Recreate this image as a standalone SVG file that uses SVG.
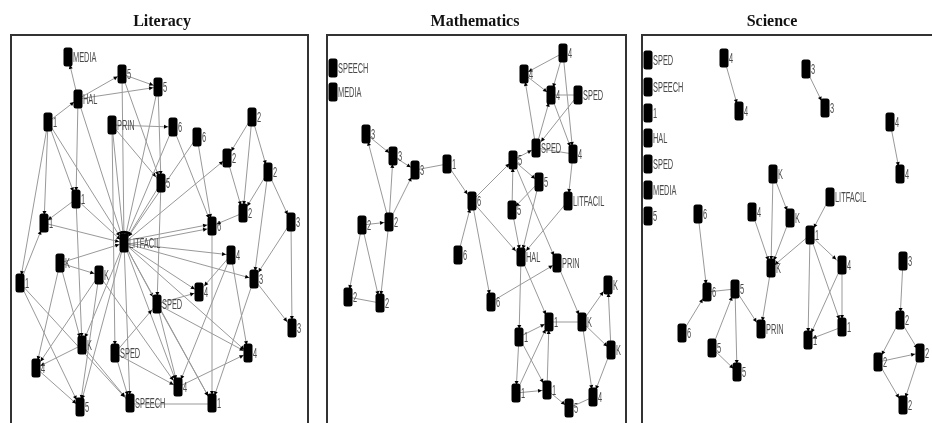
<svg xmlns="http://www.w3.org/2000/svg" xmlns:xlink="http://www.w3.org/1999/xlink" width="932" height="423" viewBox="0 0 932 423">
<style>
  .title{font-family:"Liberation Serif","Times New Roman",serif;font-size:16px;font-weight:bold;fill:#111;text-anchor:middle}
  .frame{fill:none;stroke:#333;stroke-width:2}
  .edges line{stroke:#999;stroke-width:1;marker-end:url(#a)}
  .edges line.h{marker-end:url(#h)}
  .edges line.n{marker-end:none}
  .lb{font-family:"Liberation Sans",Arial,sans-serif;font-size:14px;fill:#4a4a4a;transform:translate(5px,5px) scale(.53,1)}
</style>
<defs>
  <rect id="nd" x="-4.5" y="-9.5" width="9" height="19" rx="2.5" fill="#000"/>
  <marker id="a" markerUnits="userSpaceOnUse" markerWidth="5" markerHeight="4" refX="12" refY="2" orient="auto" overflow="visible"><path d="M0,0L4,2L0,4z" fill="#000"/></marker>
  <marker id="h" markerUnits="userSpaceOnUse" markerWidth="5" markerHeight="4" refX="9" refY="2" orient="auto" overflow="visible"><path d="M0,0L4,2L0,4z" fill="#000"/></marker>
  <!-- monochrome output: keeps small text free of colour fringes -->
  <filter id="gs" filterUnits="userSpaceOnUse" x="0" y="0" width="932" height="423">
    <feColorMatrix type="saturate" values="0"/>
  </filter>
</defs>
<g filter="url(#gs)">
<rect width="932" height="423" fill="#fff"/>

<!-- panel titles and frames -->
<text class="title" x="162" y="26">Literacy</text>
<text class="title" x="475" y="26">Mathematics</text>
<text class="title" x="772" y="26">Science</text>
<rect class="frame" x="11" y="35" width="297" height="400"/>
<rect class="frame" x="327" y="35" width="299" height="400"/>
<rect class="frame" x="642" y="35" width="300" height="400"/>

<!-- connectors -->
<g id="connectors" class="edges">
  <!-- Literacy -->
  <line x1="78" y1="99" x2="68" y2="57"/>
  <line class="h" x1="78" y1="99" x2="122" y2="74"/>
  <line class="h" x1="122" y1="74" x2="158" y2="87"/>
  <line class="h" x1="78" y1="99" x2="158" y2="87"/>
  <line class="h" x1="48" y1="122" x2="78" y2="99"/>
  <line class="h" x1="112" y1="125" x2="173" y2="127"/>
  <line x1="122" y1="74" x2="161" y2="183"/>
  <line x1="158" y1="87" x2="161" y2="183"/>
  <line x1="112" y1="125" x2="161" y2="183"/>
  <line x1="78" y1="99" x2="76" y2="199"/>
  <line x1="48" y1="122" x2="76" y2="199"/>
  <line x1="48" y1="122" x2="44" y2="223"/>
  <line x1="48" y1="122" x2="20" y2="283"/>
  <line x1="48" y1="122" x2="124" y2="243"/>
  <line x1="78" y1="99" x2="124" y2="243"/>
  <line x1="122" y1="74" x2="124" y2="243"/>
  <line x1="158" y1="87" x2="124" y2="243"/>
  <line x1="112" y1="125" x2="124" y2="243"/>
  <line x1="161" y1="183" x2="124" y2="243"/>
  <line x1="173" y1="127" x2="124" y2="243"/>
  <line x1="197" y1="137" x2="124" y2="243"/>
  <line x1="173" y1="127" x2="212" y2="226"/>
  <line x1="197" y1="137" x2="212" y2="226"/>
  <line x1="252" y1="117" x2="227" y2="158"/>
  <line x1="252" y1="117" x2="268" y2="172"/>
  <line x1="252" y1="117" x2="243" y2="213"/>
  <line x1="227" y1="158" x2="243" y2="213"/>
  <line x1="268" y1="172" x2="243" y2="213"/>
  <line x1="268" y1="172" x2="291" y2="222"/>
  <line x1="268" y1="172" x2="254" y2="279"/>
  <line class="h" x1="124" y1="243" x2="227" y2="158"/>
  <line class="h" x1="124" y1="241" x2="212" y2="224"/>
  <line class="h" x1="124" y1="245" x2="212" y2="228"/>
  <line class="h" x1="243" y1="213" x2="212" y2="226"/>
  <line class="h" x1="76" y1="199" x2="44" y2="223"/>
  <line class="h" x1="76" y1="199" x2="124" y2="243"/>
  <line class="h" x1="44" y1="223" x2="124" y2="243"/>
  <line class="h" x1="60" y1="263" x2="124" y2="243"/>
  <line class="h" x1="60" y1="263" x2="99" y2="275"/>
  <line x1="20" y1="283" x2="44" y2="223"/>
  <line class="h" x1="124" y1="243" x2="231" y2="255"/>
  <line class="h" x1="124" y1="243" x2="254" y2="279"/>
  <line class="h" x1="124" y1="243" x2="199" y2="292"/>
  <line x1="124" y1="243" x2="157" y2="304"/>
  <line class="h" x1="124" y1="243" x2="248" y2="353"/>
  <line x1="124" y1="243" x2="178" y2="387"/>
  <line x1="124" y1="243" x2="212" y2="403"/>
  <line x1="124" y1="243" x2="130" y2="403"/>
  <line x1="124" y1="243" x2="80" y2="407"/>
  <line x1="124" y1="243" x2="82" y2="345"/>
  <line x1="291" y1="222" x2="292" y2="328"/>
  <line x1="291" y1="222" x2="254" y2="279"/>
  <line x1="254" y1="279" x2="292" y2="328"/>
  <line x1="212" y1="226" x2="212" y2="403"/>
  <line x1="231" y1="255" x2="199" y2="292"/>
  <line x1="231" y1="255" x2="178" y2="387"/>
  <line x1="231" y1="255" x2="248" y2="353"/>
  <line x1="254" y1="279" x2="212" y2="403"/>
  <line class="h" x1="157" y1="304" x2="199" y2="292"/>
  <line x1="157" y1="304" x2="178" y2="387"/>
  <line x1="157" y1="304" x2="212" y2="403"/>
  <line class="h" x1="157" y1="304" x2="248" y2="353"/>
  <line class="h" x1="178" y1="387" x2="248" y2="353"/>
  <line class="n" x1="130" y1="404" x2="212" y2="404"/>
  <line x1="115" y1="353" x2="157" y2="304"/>
  <line class="h" x1="115" y1="353" x2="178" y2="387"/>
  <line x1="115" y1="353" x2="130" y2="403"/>
  <line x1="82" y1="345" x2="130" y2="403"/>
  <line class="h" x1="82" y1="345" x2="36" y2="368"/>
  <line class="h" x1="36" y1="368" x2="80" y2="407"/>
  <line x1="60" y1="263" x2="82" y2="345"/>
  <line x1="60" y1="263" x2="36" y2="368"/>
  <line x1="99" y1="275" x2="36" y2="368"/>
  <line x1="99" y1="275" x2="80" y2="407"/>
  <line x1="99" y1="275" x2="178" y2="387"/>
  <line x1="20" y1="283" x2="130" y2="403"/>
  <line x1="20" y1="283" x2="80" y2="407"/>
  <line x1="76" y1="199" x2="82" y2="345"/>
  <line x1="161" y1="183" x2="157" y2="304"/>
  <line x1="112" y1="125" x2="115" y2="353"/>

  <!-- Mathematics -->
  <line class="h" x1="366" y1="134" x2="393" y2="156"/>
  <line class="h" x1="393" y1="156" x2="415" y2="170"/>
  <line class="n" x1="415" y1="170" x2="447" y2="164"/>
  <line x1="447" y1="164" x2="472" y2="201"/>
  <line x1="389" y1="222" x2="366" y2="134"/>
  <line x1="389" y1="222" x2="393" y2="156"/>
  <line x1="389" y1="222" x2="415" y2="170"/>
  <line class="h" x1="362" y1="225" x2="389" y2="222"/>
  <line x1="362" y1="225" x2="348" y2="297"/>
  <line x1="362" y1="225" x2="380" y2="303"/>
  <line x1="389" y1="222" x2="380" y2="303"/>
  <line class="n" x1="348" y1="297" x2="380" y2="303"/>
  <line class="h" x1="472" y1="201" x2="513" y2="160"/>
  <line x1="472" y1="201" x2="521" y2="257"/>
  <line x1="472" y1="201" x2="491" y2="302"/>
  <line x1="458" y1="255" x2="472" y2="201"/>
  <line class="h" x1="513" y1="160" x2="536" y2="148"/>
  <line class="h" x1="513" y1="160" x2="539" y2="182"/>
  <line x1="512" y1="210" x2="513" y2="160"/>
  <line x1="513" y1="160" x2="557" y2="263"/>
  <line class="h" x1="539" y1="182" x2="512" y2="210"/>
  <line x1="539" y1="182" x2="521" y2="257"/>
  <line x1="512" y1="210" x2="521" y2="257"/>
  <line class="n" x1="536" y1="148" x2="573" y2="154"/>
  <line x1="536" y1="148" x2="524" y2="74"/>
  <line x1="536" y1="148" x2="551" y2="95"/>
  <line x1="578" y1="95" x2="536" y2="148"/>
  <line class="h" x1="563" y1="53" x2="524" y2="74"/>
  <line x1="563" y1="53" x2="573" y2="154"/>
  <line class="h" x1="524" y1="74" x2="551" y2="95"/>
  <line class="n" x1="551" y1="95" x2="578" y2="95"/>
  <line x1="563" y1="53" x2="551" y2="95"/>
  <line x1="551" y1="95" x2="573" y2="154"/>
  <line x1="573" y1="154" x2="568" y2="201"/>
  <line x1="568" y1="201" x2="521" y2="257"/>
  <line class="h" x1="491" y1="302" x2="557" y2="263"/>
  <line x1="521" y1="257" x2="519" y2="337"/>
  <line x1="521" y1="257" x2="549" y2="322"/>
  <line x1="557" y1="263" x2="582" y2="322"/>
  <line class="n" x1="549" y1="322" x2="582" y2="322"/>
  <line x1="582" y1="322" x2="608" y2="285"/>
  <line x1="611" y1="350" x2="608" y2="285"/>
  <line class="h" x1="582" y1="322" x2="611" y2="350"/>
  <line x1="582" y1="322" x2="593" y2="397"/>
  <line x1="611" y1="350" x2="593" y2="397"/>
  <line class="h" x1="519" y1="337" x2="549" y2="322"/>
  <line x1="519" y1="337" x2="516" y2="393"/>
  <line x1="519" y1="337" x2="547" y2="390"/>
  <line x1="516" y1="393" x2="549" y2="322"/>
  <line x1="547" y1="390" x2="549" y2="322"/>
  <line class="h" x1="516" y1="393" x2="547" y2="390"/>
  <line class="h" x1="547" y1="390" x2="569" y2="408"/>
  <line class="n" x1="593" y1="397" x2="569" y2="408"/>

  <!-- Science -->
  <line x1="724" y1="58" x2="739" y2="111"/>
  <line x1="806" y1="69" x2="825" y2="108"/>
  <line x1="890" y1="122" x2="900" y2="174"/>
  <line x1="773" y1="174" x2="790" y2="218"/>
  <line x1="773" y1="174" x2="771" y2="268"/>
  <line x1="752" y1="212" x2="771" y2="268"/>
  <line x1="790" y1="218" x2="771" y2="268"/>
  <line x1="830" y1="197" x2="810" y2="235"/>
  <line class="h" x1="810" y1="235" x2="771" y2="268"/>
  <line x1="810" y1="235" x2="842" y2="265"/>
  <line x1="810" y1="235" x2="808" y2="340"/>
  <line x1="810" y1="235" x2="842" y2="327"/>
  <line x1="842" y1="265" x2="808" y2="340"/>
  <line x1="842" y1="265" x2="842" y2="327"/>
  <line class="h" x1="842" y1="327" x2="808" y2="340"/>
  <line x1="771" y1="268" x2="761" y2="329"/>
  <line x1="698" y1="214" x2="707" y2="292"/>
  <line class="n" x1="707" y1="292" x2="735" y2="289"/>
  <line x1="682" y1="333" x2="707" y2="292"/>
  <line x1="735" y1="289" x2="761" y2="329"/>
  <line x1="712" y1="348" x2="735" y2="289"/>
  <line x1="735" y1="289" x2="737" y2="372"/>
  <line class="h" x1="712" y1="348" x2="737" y2="372"/>
  <line x1="903" y1="261" x2="900" y2="320"/>
  <line x1="900" y1="320" x2="878" y2="362"/>
  <line class="h" x1="900" y1="320" x2="920" y2="353"/>
  <line class="h" x1="878" y1="362" x2="920" y2="353"/>
  <line x1="878" y1="362" x2="903" y2="405"/>
  <line x1="920" y1="353" x2="903" y2="405"/>
</g>

<!-- Literacy nodes -->
<g id="lit-media" transform="translate(68,57)"><use href="#nd"/><text class="lb">MEDIA</text></g>
<g id="lit-5a" transform="translate(122,74)"><use href="#nd"/><text class="lb">5</text></g>
<g id="lit-5b" transform="translate(158,87)"><use href="#nd"/><text class="lb">5</text></g>
<g id="lit-hal" transform="translate(78,99)"><use href="#nd"/><text class="lb">HAL</text></g>
<g id="lit-1a" transform="translate(48,122)"><use href="#nd"/><text class="lb">1</text></g>
<g id="lit-prin" transform="translate(112,125)"><use href="#nd"/><text class="lb">PRIN</text></g>
<g id="lit-6a" transform="translate(173,127)"><use href="#nd"/><text class="lb">6</text></g>
<g id="lit-6b" transform="translate(197,137)"><use href="#nd"/><text class="lb">6</text></g>
<g id="lit-2a" transform="translate(252,117)"><use href="#nd"/><text class="lb">2</text></g>
<g id="lit-2b" transform="translate(227,158)"><use href="#nd"/><text class="lb">2</text></g>
<g id="lit-2c" transform="translate(268,172)"><use href="#nd"/><text class="lb">2</text></g>
<g id="lit-5c" transform="translate(161,183)"><use href="#nd"/><text class="lb">5</text></g>
<g id="lit-1b" transform="translate(76,199)"><use href="#nd"/><text class="lb">1</text></g>
<g id="lit-1c" transform="translate(44,223)"><use href="#nd"/><text class="lb">1</text></g>
<g id="lit-litfacil" transform="translate(124,243)"><use href="#nd"/><text class="lb">LITFACIL</text></g>
<g id="lit-6c" transform="translate(212,226)"><use href="#nd"/><text class="lb">6</text></g>
<g id="lit-2d" transform="translate(243,213)"><use href="#nd"/><text class="lb">2</text></g>
<g id="lit-3a" transform="translate(291,222)"><use href="#nd"/><text class="lb">3</text></g>
<g id="lit-4a" transform="translate(231,255)"><use href="#nd"/><text class="lb">4</text></g>
<g id="lit-ka" transform="translate(60,263)"><use href="#nd"/><text class="lb">K</text></g>
<g id="lit-kb" transform="translate(99,275)"><use href="#nd"/><text class="lb">K</text></g>
<g id="lit-1d" transform="translate(20,283)"><use href="#nd"/><text class="lb">1</text></g>
<g id="lit-3b" transform="translate(254,279)"><use href="#nd"/><text class="lb">3</text></g>
<g id="lit-4b" transform="translate(199,292)"><use href="#nd"/><text class="lb">4</text></g>
<g id="lit-sped-a" transform="translate(157,304)"><use href="#nd"/><text class="lb">SPED</text></g>
<g id="lit-3c" transform="translate(292,328)"><use href="#nd"/><text class="lb">3</text></g>
<g id="lit-kc" transform="translate(82,345)"><use href="#nd"/><text class="lb">K</text></g>
<g id="lit-sped-b" transform="translate(115,353)"><use href="#nd"/><text class="lb">SPED</text></g>
<g id="lit-4c" transform="translate(248,353)"><use href="#nd"/><text class="lb">4</text></g>
<g id="lit-4d" transform="translate(36,368)"><use href="#nd"/><text class="lb">4</text></g>
<g id="lit-4e" transform="translate(178,387)"><use href="#nd"/><text class="lb">4</text></g>
<g id="lit-5d" transform="translate(80,407)"><use href="#nd"/><text class="lb">5</text></g>
<g id="lit-speech" transform="translate(130,403)"><use href="#nd"/><text class="lb">SPEECH</text></g>
<g id="lit-1e" transform="translate(212,403)"><use href="#nd"/><text class="lb">1</text></g>

<!-- Mathematics nodes -->
<g id="math-speech" transform="translate(333,68)"><use href="#nd"/><text class="lb">SPEECH</text></g>
<g id="math-media" transform="translate(333,92)"><use href="#nd"/><text class="lb">MEDIA</text></g>
<g id="math-3a" transform="translate(366,134)"><use href="#nd"/><text class="lb">3</text></g>
<g id="math-3b" transform="translate(393,156)"><use href="#nd"/><text class="lb">3</text></g>
<g id="math-3c" transform="translate(415,170)"><use href="#nd"/><text class="lb">3</text></g>
<g id="math-1a" transform="translate(447,164)"><use href="#nd"/><text class="lb">1</text></g>
<g id="math-6a" transform="translate(472,201)"><use href="#nd"/><text class="lb">6</text></g>
<g id="math-4a" transform="translate(563,53)"><use href="#nd"/><text class="lb">4</text></g>
<g id="math-4b" transform="translate(524,74)"><use href="#nd"/><text class="lb">4</text></g>
<g id="math-4c" transform="translate(551,95)"><use href="#nd"/><text class="lb">4</text></g>
<g id="math-sped-a" transform="translate(578,95)"><use href="#nd"/><text class="lb">SPED</text></g>
<g id="math-sped-b" transform="translate(536,148)"><use href="#nd"/><text class="lb">SPED</text></g>
<g id="math-4d" transform="translate(573,154)"><use href="#nd"/><text class="lb">4</text></g>
<g id="math-5a" transform="translate(513,160)"><use href="#nd"/><text class="lb">5</text></g>
<g id="math-5b" transform="translate(539,182)"><use href="#nd"/><text class="lb">5</text></g>
<g id="math-5c" transform="translate(512,210)"><use href="#nd"/><text class="lb">5</text></g>
<g id="math-litfacil" transform="translate(568,201)"><use href="#nd"/><text class="lb">LITFACIL</text></g>
<g id="math-6b" transform="translate(458,255)"><use href="#nd"/><text class="lb">6</text></g>
<g id="math-2a" transform="translate(362,225)"><use href="#nd"/><text class="lb">2</text></g>
<g id="math-2b" transform="translate(389,222)"><use href="#nd"/><text class="lb">2</text></g>
<g id="math-2c" transform="translate(348,297)"><use href="#nd"/><text class="lb">2</text></g>
<g id="math-2d" transform="translate(380,303)"><use href="#nd"/><text class="lb">2</text></g>
<g id="math-hal" transform="translate(521,257)"><use href="#nd"/><text class="lb">HAL</text></g>
<g id="math-prin" transform="translate(557,263)"><use href="#nd"/><text class="lb">PRIN</text></g>
<g id="math-6c" transform="translate(491,302)"><use href="#nd"/><text class="lb">6</text></g>
<g id="math-ka" transform="translate(608,285)"><use href="#nd"/><text class="lb">K</text></g>
<g id="math-1b" transform="translate(549,322)"><use href="#nd"/><text class="lb">1</text></g>
<g id="math-kb" transform="translate(582,322)"><use href="#nd"/><text class="lb">K</text></g>
<g id="math-1c" transform="translate(519,337)"><use href="#nd"/><text class="lb">1</text></g>
<g id="math-kc" transform="translate(611,350)"><use href="#nd"/><text class="lb">K</text></g>
<g id="math-1d" transform="translate(516,393)"><use href="#nd"/><text class="lb">1</text></g>
<g id="math-1e" transform="translate(547,390)"><use href="#nd"/><text class="lb">1</text></g>
<g id="math-4e" transform="translate(593,397)"><use href="#nd"/><text class="lb">4</text></g>
<g id="math-5d" transform="translate(569,408)"><use href="#nd"/><text class="lb">5</text></g>

<!-- Science nodes -->
<g id="sci-sped-a" transform="translate(648,60)"><use href="#nd"/><text class="lb">SPED</text></g>
<g id="sci-speech" transform="translate(648,87)"><use href="#nd"/><text class="lb">SPEECH</text></g>
<g id="sci-1" transform="translate(648,113)"><use href="#nd"/><text class="lb">1</text></g>
<g id="sci-hal" transform="translate(648,138)"><use href="#nd"/><text class="lb">HAL</text></g>
<g id="sci-sped-b" transform="translate(648,164)"><use href="#nd"/><text class="lb">SPED</text></g>
<g id="sci-media" transform="translate(648,190)"><use href="#nd"/><text class="lb">MEDIA</text></g>
<g id="sci-5" transform="translate(648,216)"><use href="#nd"/><text class="lb">5</text></g>
<g id="sci-4a" transform="translate(724,58)"><use href="#nd"/><text class="lb">4</text></g>
<g id="sci-4b" transform="translate(739,111)"><use href="#nd"/><text class="lb">4</text></g>
<g id="sci-3a" transform="translate(806,69)"><use href="#nd"/><text class="lb">3</text></g>
<g id="sci-3b" transform="translate(825,108)"><use href="#nd"/><text class="lb">3</text></g>
<g id="sci-4c" transform="translate(890,122)"><use href="#nd"/><text class="lb">4</text></g>
<g id="sci-4d" transform="translate(900,174)"><use href="#nd"/><text class="lb">4</text></g>
<g id="sci-ka" transform="translate(773,174)"><use href="#nd"/><text class="lb">K</text></g>
<g id="sci-litfacil" transform="translate(830,197)"><use href="#nd"/><text class="lb">LITFACIL</text></g>
<g id="sci-6a" transform="translate(698,214)"><use href="#nd"/><text class="lb">6</text></g>
<g id="sci-4e" transform="translate(752,212)"><use href="#nd"/><text class="lb">4</text></g>
<g id="sci-kb" transform="translate(790,218)"><use href="#nd"/><text class="lb">K</text></g>
<g id="sci-1a" transform="translate(810,235)"><use href="#nd"/><text class="lb">1</text></g>
<g id="sci-kc" transform="translate(771,268)"><use href="#nd"/><text class="lb">K</text></g>
<g id="sci-4f" transform="translate(842,265)"><use href="#nd"/><text class="lb">4</text></g>
<g id="sci-3c" transform="translate(903,261)"><use href="#nd"/><text class="lb">3</text></g>
<g id="sci-6b" transform="translate(707,292)"><use href="#nd"/><text class="lb">6</text></g>
<g id="sci-5a" transform="translate(735,289)"><use href="#nd"/><text class="lb">5</text></g>
<g id="sci-6c" transform="translate(682,333)"><use href="#nd"/><text class="lb">6</text></g>
<g id="sci-prin" transform="translate(761,329)"><use href="#nd"/><text class="lb">PRIN</text></g>
<g id="sci-1b" transform="translate(808,340)"><use href="#nd"/><text class="lb">1</text></g>
<g id="sci-1c" transform="translate(842,327)"><use href="#nd"/><text class="lb">1</text></g>
<g id="sci-2a" transform="translate(900,320)"><use href="#nd"/><text class="lb">2</text></g>
<g id="sci-5b" transform="translate(712,348)"><use href="#nd"/><text class="lb">5</text></g>
<g id="sci-5c" transform="translate(737,372)"><use href="#nd"/><text class="lb">5</text></g>
<g id="sci-2b" transform="translate(878,362)"><use href="#nd"/><text class="lb">2</text></g>
<g id="sci-2c" transform="translate(920,353)"><use href="#nd"/><text class="lb">2</text></g>
<g id="sci-2d" transform="translate(903,405)"><use href="#nd"/><text class="lb">2</text></g>
</g>
</svg>
